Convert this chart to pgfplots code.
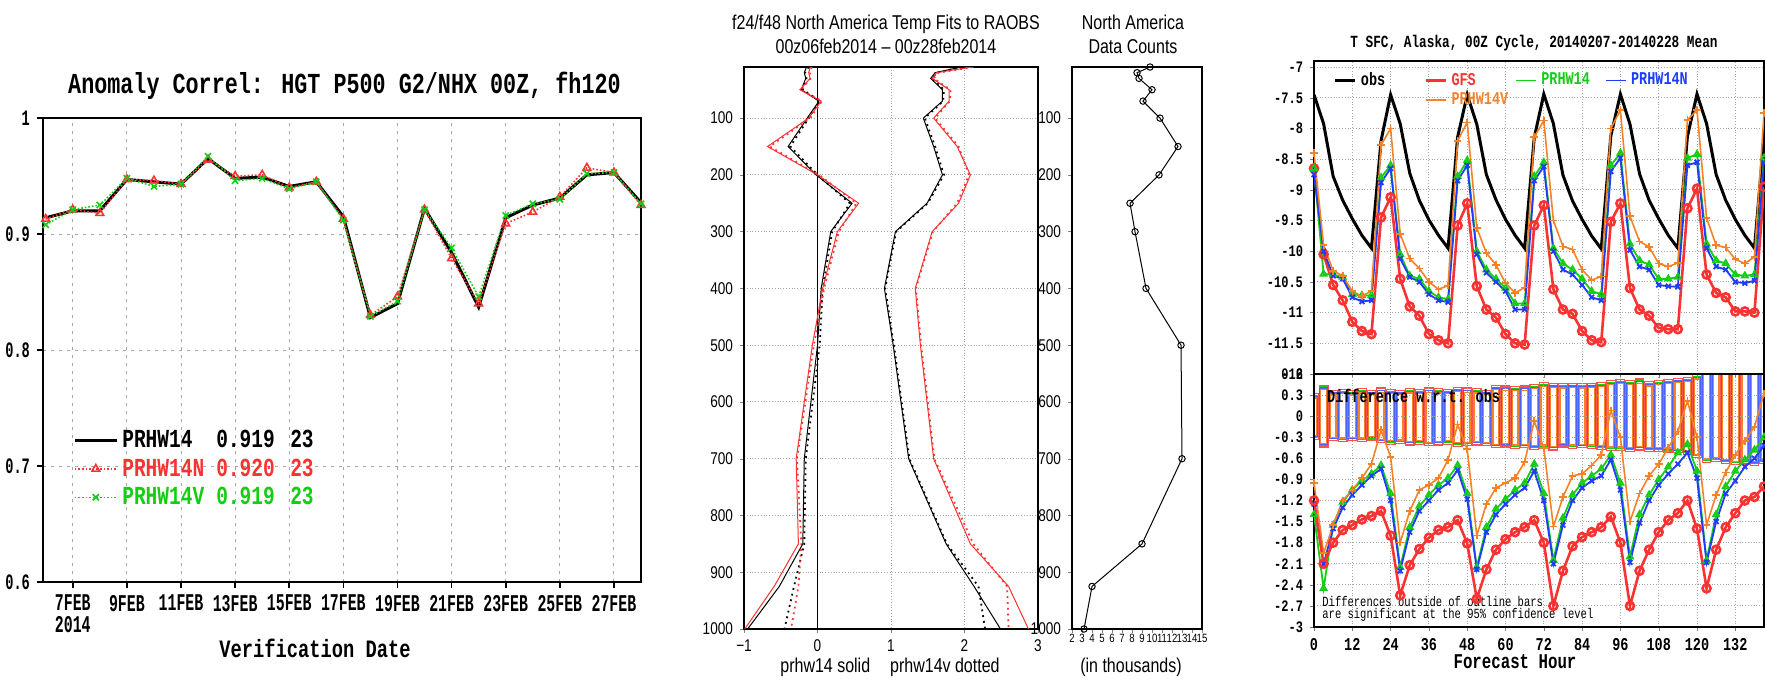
\documentclass[border=0pt]{standalone}
\usepackage{fontspec}
\setmainfont{Liberation Sans}
\newfontfamily\grads[FakeStretch=0.75]{Liberation Mono}
\newfontfamily\gradsn[FakeStretch=0.62]{Liberation Mono}
\newfontfamily\gsans[FakeStretch=0.8]{Liberation Sans}
\usepackage{pgfplots}
\usepackage{pgfplotstable}
\pgfplotsset{compat=1.18}

\definecolor{gred}{RGB}{250,50,50}
\definecolor{ggreen}{RGB}{20,205,20}
\definecolor{gblue}{RGB}{30,60,250}
\definecolor{gorange}{RGB}{245,130,40}
\definecolor{ggrid}{RGB}{165,165,165}

% anomaly correlation, daily
\pgfplotstableread{
day a n v
6 0.914 0.913 0.908
7 0.920 0.921 0.921
8 0.920 0.918 0.925
9 0.947 0.947 0.948
10 0.945 0.946 0.941
11 0.943 0.943 0.943
12 0.965 0.964 0.967
13 0.948 0.950 0.946
14 0.949 0.951 0.948
15 0.941 0.940 0.939
16 0.945 0.945 0.945
17 0.915 0.913 0.912
18 0.828 0.830 0.829
19 0.840 0.846 0.842
20 0.922 0.921 0.921
21 0.884 0.879 0.888
22 0.837 0.840 0.846
23 0.914 0.909 0.916
24 0.925 0.919 0.926
25 0.931 0.932 0.930
26 0.951 0.957 0.952
27 0.953 0.953 0.953
28 0.927 0.925 0.926
}\acdata

% raob fits: bias (b) and rms (m), solid/dotted
\pgfplotstableread{
p bs bd rs rd ms md mrs mrd
10 -0.15 -0.12 -0.10 -0.08 1.95 1.97 2.10 2.12
20 -0.18 -0.17 -0.12 -0.10 1.60 1.62 1.62 1.64
30 -0.16 -0.15 -0.10 -0.09 1.54 1.56 1.56 1.58
50 -0.22 -0.20 -0.24 -0.23 1.70 1.72 1.79 1.81
70 0.02 0.03 0.05 0.06 1.70 1.71 1.79 1.80
100 -0.14 -0.12 -0.12 -0.10 1.44 1.46 1.58 1.60
150 -0.40 -0.37 -0.68 -0.65 1.58 1.60 1.90 1.92
200 -0.02 0.00 0.00 0.02 1.70 1.72 2.08 2.06
250 0.47 0.44 0.56 0.53 1.49 1.50 1.92 1.90
300 0.18 0.20 0.27 0.29 1.06 1.07 1.56 1.57
400 0.05 0.07 0.07 0.09 0.91 0.92 1.33 1.34
500 0.00 0.03 -0.07 -0.05 1.03 1.04 1.40 1.41
700 -0.18 -0.16 -0.29 -0.28 1.24 1.25 1.58 1.59
850 -0.20 -0.18 -0.26 -0.22 1.75 1.76 2.08 2.12
925 -0.52 -0.32 -0.59 -0.26 2.13 2.19 2.60 2.58
1000 -0.95 -0.45 -0.99 -0.36 2.49 2.28 2.87 2.60
}\fits

\pgfplotstableread{
p n
10 9.8
20 8.5
30 8.7
50 10.0
70 9.1
100 10.8
150 12.6
200 10.7
250 7.8
300 8.3
400 9.4
500 12.9
700 13.0
850 9.0
925 4.0
1000 3.2
}\counts

% T SFC Alaska, 3-hourly means
\pgfplotstableread{
h obs gfs p14 p14n p14v
0 -7.45 -8.65 -8.65 -8.75 -8.40
3 -7.92 -10.05 -10.37 -10.00 -9.90
6 -8.78 -10.55 -10.38 -10.40 -10.32
9 -9.17 -10.80 -10.42 -10.45 -10.40
12 -9.47 -11.15 -10.70 -10.75 -10.65
15 -9.74 -11.30 -10.72 -10.82 -10.73
18 -9.95 -11.35 -10.72 -10.80 -10.65
21 -8.20 -9.45 -8.80 -8.88 -8.27
24 -7.45 -9.12 -8.60 -8.65 -8.00
27 -7.92 -10.45 -10.05 -10.12 -9.72
30 -8.73 -10.90 -10.40 -10.42 -10.12
33 -9.17 -11.05 -10.45 -10.50 -10.28
36 -9.49 -11.35 -10.65 -10.70 -10.50
39 -9.74 -11.45 -10.75 -10.80 -10.62
42 -9.95 -11.50 -10.78 -10.83 -10.56
45 -8.14 -9.58 -8.78 -8.85 -8.20
48 -7.45 -9.22 -8.52 -8.60 -7.90
51 -7.93 -10.57 -10.00 -10.05 -9.62
54 -8.75 -10.95 -10.30 -10.35 -10.03
57 -9.16 -11.08 -10.45 -10.50 -10.22
60 -9.48 -11.35 -10.60 -10.65 -10.52
63 -9.74 -11.50 -10.85 -10.95 -10.68
66 -9.95 -11.52 -10.85 -10.95 -10.59
69 -8.15 -9.58 -8.78 -8.85 -8.14
72 -7.44 -9.25 -8.55 -8.62 -7.87
75 -7.92 -10.62 -9.95 -10.00 -9.50
78 -8.76 -10.95 -10.20 -10.30 -9.92
81 -9.18 -11.02 -10.30 -10.38 -9.97
84 -9.48 -11.30 -10.45 -10.55 -10.30
87 -9.75 -11.45 -10.65 -10.75 -10.47
90 -9.96 -11.48 -10.70 -10.80 -10.41
93 -8.12 -9.52 -8.60 -8.70 -8.00
96 -7.44 -9.22 -8.40 -8.48 -7.70
99 -7.93 -10.60 -9.88 -9.98 -9.43
102 -8.74 -10.95 -10.15 -10.25 -9.84
105 -9.17 -11.05 -10.22 -10.30 -9.93
108 -9.47 -11.25 -10.45 -10.55 -10.20
111 -9.74 -11.27 -10.45 -10.57 -10.25
114 -9.95 -11.27 -10.42 -10.58 -10.19
117 -8.13 -9.30 -8.48 -8.60 -7.86
120 -7.44 -8.98 -8.42 -8.55 -7.70
123 -7.92 -10.38 -9.88 -9.95 -9.46
126 -8.75 -10.68 -10.15 -10.25 -9.90
129 -9.17 -10.75 -10.20 -10.30 -9.94
132 -9.48 -10.98 -10.38 -10.50 -10.13
135 -9.74 -10.98 -10.40 -10.52 -10.20
138 -9.95 -11.00 -10.38 -10.48 -10.09
141 -8.15 -8.95 -8.48 -8.56 -7.75
}\tsfc

% differences w.r.t. obs
\pgfplotstableread{
h dg dp dn dv
0 -1.20 -1.40 -1.25 -0.95
3 -2.10 -2.45 -2.10 -1.95
6 -1.80 -1.55 -1.60 -1.55
9 -1.62 -1.22 -1.30 -1.20
12 -1.55 -1.05 -1.12 -1.05
15 -1.47 -0.92 -0.98 -0.88
18 -1.42 -0.82 -0.85 -0.68
21 -1.35 -0.70 -0.75 -0.20
24 -1.70 -1.10 -1.20 -0.58
27 -2.55 -2.15 -2.20 -1.80
30 -2.12 -1.58 -1.65 -1.35
33 -1.89 -1.28 -1.35 -1.05
36 -1.73 -1.12 -1.20 -0.98
39 -1.62 -0.98 -1.05 -0.88
42 -1.58 -0.88 -0.95 -0.62
45 -1.48 -0.70 -0.77 -0.12
48 -1.81 -1.10 -1.18 -0.47
51 -2.60 -2.15 -2.18 -1.70
54 -2.18 -1.58 -1.65 -1.25
57 -1.90 -1.32 -1.40 -1.02
60 -1.75 -1.18 -1.25 -0.95
63 -1.65 -1.05 -1.12 -0.88
66 -1.58 -0.95 -1.02 -0.65
69 -1.48 -0.68 -0.78 -0.07
72 -1.80 -1.10 -1.20 -0.45
75 -2.70 -2.05 -2.10 -1.57
78 -2.20 -1.45 -1.55 -1.15
81 -1.85 -1.12 -1.20 -0.85
84 -1.72 -0.95 -1.02 -0.82
87 -1.65 -0.85 -0.92 -0.70
90 -1.58 -0.75 -0.85 -0.55
93 -1.43 -0.55 -0.62 0.08
96 -1.80 -0.95 -1.05 -0.30
99 -2.70 -2.00 -2.08 -1.50
102 -2.20 -1.40 -1.52 -1.10
105 -1.90 -1.12 -1.20 -0.85
108 -1.65 -0.90 -0.98 -0.68
111 -1.48 -0.72 -0.82 -0.45
114 -1.38 -0.52 -0.68 -0.22
117 -1.20 -0.40 -0.52 0.22
120 -1.60 -0.78 -0.88 -0.30
123 -2.45 -2.05 -2.08 -1.55
126 -1.90 -1.40 -1.50 -1.12
129 -1.58 -1.00 -1.10 -0.80
132 -1.38 -0.78 -0.92 -0.55
135 -1.20 -0.62 -0.72 -0.35
138 -1.15 -0.48 -0.60 -0.15
141 -1.00 -0.30 -0.42 0.32
}\diffs

% 95% outline bars: lower end and length, per model
\pgfplotstableread{
h rlo rlen glo glen blo blen olo olen
0 -0.33 0.65 -0.30 0.59 -0.29 0.57 -0.28 0.54
3 -0.44 0.88 -0.42 0.84 -0.40 0.80 -0.39 0.77
6 -0.35 0.72 -0.32 0.66 -0.31 0.64 -0.30 0.61
9 -0.36 0.74 -0.33 0.68 -0.32 0.66 -0.31 0.63
12 -0.35 0.71 -0.32 0.65 -0.31 0.63 -0.30 0.60
15 -0.36 0.75 -0.33 0.69 -0.32 0.67 -0.31 0.64
18 -0.34 0.71 -0.31 0.65 -0.30 0.63 -0.29 0.60
21 -0.38 0.78 -0.35 0.72 -0.34 0.70 -0.33 0.67
24 -0.40 0.78 -0.37 0.72 -0.36 0.70 -0.35 0.67
27 -0.39 0.76 -0.36 0.70 -0.35 0.68 -0.34 0.65
30 -0.41 0.80 -0.38 0.74 -0.37 0.72 -0.36 0.69
33 -0.40 0.78 -0.37 0.72 -0.36 0.70 -0.35 0.67
36 -0.42 0.82 -0.39 0.76 -0.38 0.74 -0.37 0.71
39 -0.41 0.80 -0.38 0.74 -0.37 0.72 -0.36 0.69
42 -0.40 0.78 -0.37 0.72 -0.36 0.70 -0.35 0.67
45 -0.43 0.84 -0.40 0.78 -0.39 0.76 -0.38 0.73
48 -0.42 0.82 -0.39 0.76 -0.38 0.74 -0.37 0.71
51 -0.41 0.80 -0.38 0.74 -0.37 0.72 -0.36 0.69
54 -0.42 0.79 -0.39 0.73 -0.38 0.71 -0.37 0.68
57 -0.45 0.89 -0.42 0.83 -0.41 0.81 -0.40 0.78
60 -0.44 0.87 -0.41 0.81 -0.40 0.79 -0.39 0.76
63 -0.46 0.88 -0.43 0.82 -0.42 0.80 -0.41 0.77
66 -0.45 0.88 -0.42 0.82 -0.41 0.80 -0.40 0.77
69 -0.47 0.92 -0.44 0.86 -0.43 0.84 -0.42 0.81
72 -0.46 0.94 -0.43 0.88 -0.42 0.86 -0.41 0.83
75 -0.48 0.95 -0.45 0.89 -0.44 0.87 -0.43 0.84
78 -0.44 0.90 -0.41 0.84 -0.40 0.82 -0.39 0.79
81 -0.46 0.93 -0.43 0.87 -0.42 0.85 -0.41 0.82
84 -0.45 0.91 -0.42 0.85 -0.41 0.83 -0.40 0.80
87 -0.46 0.93 -0.43 0.87 -0.42 0.85 -0.41 0.82
90 -0.47 0.95 -0.44 0.89 -0.43 0.87 -0.42 0.84
93 -0.49 1.00 -0.46 0.94 -0.45 0.92 -0.44 0.89
96 -0.49 1.01 -0.46 0.95 -0.45 0.93 -0.44 0.90
99 -0.50 1.01 -0.47 0.95 -0.46 0.93 -0.45 0.90
102 -0.48 1.01 -0.45 0.95 -0.44 0.93 -0.43 0.90
105 -0.50 0.99 -0.47 0.93 -0.46 0.91 -0.45 0.88
108 -0.50 1.01 -0.47 0.95 -0.46 0.93 -0.45 0.90
111 -0.51 1.03 -0.48 0.97 -0.47 0.95 -0.46 0.92
114 -0.52 1.06 -0.49 1.00 -0.48 0.98 -0.47 0.95
117 -0.54 1.09 -0.51 1.03 -0.50 1.01 -0.49 0.98
120 -0.59 1.18 -0.56 1.12 -0.55 1.10 -0.54 1.07
123 -0.66 1.32 -0.63 1.26 -0.62 1.24 -0.61 1.21
126 -0.64 1.30 -0.61 1.24 -0.60 1.22 -0.59 1.19
129 -0.67 1.33 -0.64 1.27 -0.63 1.25 -0.62 1.22
132 -0.69 1.35 -0.66 1.29 -0.65 1.27 -0.64 1.24
135 -0.68 1.34 -0.65 1.28 -0.64 1.26 -0.63 1.23
138 -0.70 1.36 -0.67 1.30 -0.66 1.28 -0.65 1.25
141 -0.67 1.33 -0.64 1.27 -0.63 1.25 -0.62 1.22
}\bars

\pgfplotsset{
  diffbox/.style={at={(657pt,27.5pt)}, anchor=south west, scale only axis,
    width=225pt, height=126.5pt, xmin=0, xmax=141, ymin=-3, ymax=0.6,
    hide axis, ybar stacked, stack negative=on previous},
}

\begin{document}
\begin{tikzpicture}
\useasboundingbox (0,0) rectangle (882.5pt,341pt);

% ---------------- left: anomaly correlation
\begin{axis}[
  at={(21.5pt,50pt)}, anchor=south west, scale only axis,
  width=299pt, height=232pt,
  xmin=5.9, xmax=28, ymin=0.6, ymax=1,
  xtick={7,9,11,13,15,17,19,21,23,25,27},
  xticklabels={{7FEB\\2014},9FEB,11FEB,13FEB,15FEB,17FEB,19FEB,21FEB,23FEB,25FEB,27FEB},
  ytick={0.6,0.7,0.8,0.9,1},
  yticklabels={0.6,0.7,0.8,0.9,1},
  tick pos=left, tick align=outside, major tick length=3pt,
  tick style={black, line width=0.8pt},
  xticklabel style={font=\gradsn\bfseries\fontsize{12}{11}\selectfont, align=left},
  yticklabel style={font=\gradsn\bfseries\fontsize{11}{10}\selectfont},
  grid=major, grid style={ggrid, dash pattern=on 1.5pt off 2.5pt, line width=0.5pt},
  axis line style={line width=1.2pt},
  legend cell align=left,
  legend style={at={(0.04,0.345)}, anchor=north west, draw=none, fill=none,
    font=\grads\bfseries\fontsize{13}{13}\selectfont},
  legend image code/.code={\draw[mark repeat=2,mark phase=2,#1] plot coordinates {(0pt,0pt) (10.5pt,0pt) (21pt,0pt)};},
]
\addplot[black, line width=1.5pt] table[x=day,y=a]{\acdata};
\addlegendentry{\makebox[47pt][l]{PRHW14}\makebox[37pt][l]{0.919}23}
\addplot[gred, densely dotted, line width=0.8pt, mark=triangle, mark size=2.2pt, mark options={solid}] table[x=day,y=n]{\acdata};
\addlegendentry{\textcolor{gred}{\makebox[47pt][l]{PRHW14N}\makebox[37pt][l]{0.920}23}}
\addplot[ggreen, densely dotted, line width=0.8pt, mark=x, mark size=2.2pt, mark options={solid}] table[x=day,y=v]{\acdata};
\addlegendentry{\textcolor{ggreen}{\makebox[47pt][l]{PRHW14V}\makebox[37pt][l]{0.919}23}}
\end{axis}
\node[font=\grads\bfseries\fontsize{14.5}{15}\selectfont] at (172.25pt,298pt) {Anomaly Correl: HGT P500 G2/NHX 00Z, fh120};
\node[font=\grads\bfseries\fontsize{12.5}{13}\selectfont] at (157.5pt,17pt) {Verification Date};

% ---------------- middle: fits to raobs
\begin{axis}[
  at={(372pt,26.5pt)}, anchor=south west, scale only axis,
  width=147pt, height=281pt,
  xmin=-1, xmax=3, ymin=10, ymax=1000, y dir=reverse,
  xtick={-1,0,1,2,3}, xticklabels={−1,0,1,2,3},
  ytick={100,200,300,400,500,600,700,800,900,1000},
  yticklabels={100,200,300,400,500,600,700,800,900,1000},
  tick pos=left, tick align=outside, major tick length=2pt,
  grid=major, grid style={ggrid, densely dotted, line width=0.5pt},
  tick label style={font=\gsans\fontsize{8.5}{8}\selectfont},
  axis line style={line width=0.8pt},
]
\addplot[black, line width=0.8pt] coordinates {(0,10) (0,1000)};
\addplot[black, line width=0.5pt] table[x=bs,y=p]{\fits};
\addplot[black, dotted, line width=0.9pt] table[x=bd,y=p]{\fits};
\addplot[gred, line width=0.5pt] table[x=rs,y=p]{\fits};
\addplot[gred, dotted, line width=0.9pt] table[x=rd,y=p]{\fits};
\addplot[black, line width=0.5pt] table[x=ms,y=p]{\fits};
\addplot[black, dotted, line width=0.9pt] table[x=md,y=p]{\fits};
\addplot[gred, line width=0.5pt] table[x=mrs,y=p]{\fits};
\addplot[gred, dotted, line width=0.9pt] table[x=mrd,y=p]{\fits};
\end{axis}
\node[font=\gsans\fontsize{10}{12}\selectfont, align=center] at (443pt,324pt) {f24/f48 North America Temp Fits to RAOBS\\00z06feb2014 – 00z28feb2014};
\node[font=\gsans\fontsize{10}{10}\selectfont] at (445pt,7.5pt) {prhw14 solid\quad prhw14v dotted};

% ---------------- middle right: data counts
\begin{axis}[
  at={(536pt,26.5pt)}, anchor=south west, scale only axis,
  width=65pt, height=281pt,
  xmin=2, xmax=15, ymin=10, ymax=1000, y dir=reverse,
  xtick={2,3,4,5,6,7,8,9,10,11,12,13,14,15},
  xticklabels={2,3,4,5,6,7,8,9,10,11,12,13,14,15},
  ytick={100,200,300,400,500,600,700,800,900,1000},
  yticklabels={100,200,300,400,500,600,700,800,900,1000},
  tick pos=left, tick align=outside, major tick length=2pt,
  yticklabel style={font=\gsans\fontsize{8.5}{8}\selectfont},
  xticklabel style={font=\gsans\fontsize{6}{6}\selectfont, inner sep=0.5pt},
  axis line style={line width=0.8pt},
]
\addplot[black, line width=0.5pt, mark=o, mark size=1.6pt] table[x=n,y=p]{\counts};
\end{axis}
\node[font=\gsans\fontsize{10}{12}\selectfont, align=center] at (566.5pt,324pt) {North America\\Data Counts};
\node[font=\gsans\fontsize{10}{10}\selectfont] at (565.5pt,7.5pt) {(in thousands)};

% ---------------- right top: T SFC Alaska
\begin{axis}[
  at={(657pt,154pt)}, anchor=south west, scale only axis,
  width=225pt, height=156.5pt,
  xmin=0, xmax=141, ymin=-12, ymax=-6.9,
  xtick={0,12,24,36,48,60,72,84,96,108,120,132}, xticklabels={},
  ytick={-12,-11.5,-11,-10.5,-10,-9.5,-9,-8.5,-8,-7.5,-7},
  yticklabels={-12,-11.5,-11,-10.5,-10,-9.5,-9,-8.5,-8,-7.5,-7},
  tick pos=left, tick align=outside, major tick length=2pt,
  yticklabel style={font=\grads\bfseries\fontsize{8}{8}\selectfont},
  grid=major, grid style={ggrid, densely dotted, line width=0.5pt},
  axis line style={line width=1pt},
  legend columns=4,
  legend style={at={(0.03,0.99)}, anchor=north west, draw=none, fill=none,
    font=\grads\bfseries\fontsize{9}{9}\selectfont, row sep=-2pt,
    /tikz/every even column/.append style={column sep=0pt}},
  legend cell align=left,
  legend image code/.code={\draw[#1, mark=none] (0pt,0pt) -- (10pt,0pt);},
]
\addplot[black, line width=1.5pt] table[x=h,y=obs]{\tsfc};
\addlegendentry{\makebox[30pt][l]{obs}}
\addplot[gred, line width=1.3pt, mark=o, mark size=2pt] table[x=h,y=gfs]{\tsfc};
\addlegendentry{\textcolor{gred}{\makebox[30pt][l]{GFS}}}
\addplot[ggreen, line width=0.9pt, mark=triangle, mark size=1.7pt] table[x=h,y=p14]{\tsfc};
\addlegendentry{\textcolor{ggreen}{\makebox[30pt][l]{PRHW14}}}
\addplot[gblue, line width=0.9pt, mark=x, mark size=1.7pt] table[x=h,y=p14n]{\tsfc};
\addlegendentry{\textcolor{gblue}{PRHW14N}}
\addlegendimage{empty legend}
\addlegendentry{}
\addplot[gorange, line width=0.8pt, mark=+, mark size=1.9pt] table[x=h,y=p14v]{\tsfc};
\addlegendentry{\textcolor{gorange}{PRHW14V}}
\end{axis}
\node[font=\grads\bfseries\fontsize{8.5}{9}\selectfont] at (767pt,319.5pt) {T SFC, Alaska, 00Z Cycle, 20140207-20140228 Mean};

% ---------------- right bottom: outline bars, one overlay per model
\begin{axis}[diffbox, bar width=2.7]
\addplot[draw=none, fill=none] table[x=h,y=rlo]{\bars};
\addplot[draw=gred!85, fill=none, line width=0.6pt] table[x=h,y=rlen]{\bars};
\end{axis}
\begin{axis}[diffbox, bar width=2.1]
\addplot[draw=none, fill=none] table[x=h,y=glo]{\bars};
\addplot[draw=ggreen, fill=none, line width=0.6pt] table[x=h,y=glen]{\bars};
\end{axis}
\begin{axis}[diffbox, bar width=2.3]
\addplot[draw=none, fill=none] table[x=h,y=blo]{\bars};
\addplot[draw=gblue!80, fill=none, line width=0.6pt] table[x=h,y=blen]{\bars};
\end{axis}
\begin{axis}[diffbox, bar width=1.8]
\addplot[draw=none, fill=none] table[x=h,y=olo]{\bars};
\addplot[draw=gorange, fill=none, line width=0.6pt] table[x=h,y=olen]{\bars};
\end{axis}

\begin{axis}[
  at={(657pt,27.5pt)}, anchor=south west, scale only axis,
  width=225pt, height=126.5pt,
  xmin=0, xmax=141, ymin=-3, ymax=0.6,
  xtick={0,12,24,36,48,60,72,84,96,108,120,132},
  xticklabels={0,12,24,36,48,60,72,84,96,108,120,132},
  ytick={-3,-2.7,-2.4,-2.1,-1.8,-1.5,-1.2,-0.9,-0.6,-0.3,0,0.3,0.6},
  yticklabels={-3,-2.7,-2.4,-2.1,-1.8,-1.5,-1.2,-0.9,-0.6,-0.3,0,0.3,0.6},
  tick pos=left, tick align=outside, major tick length=2pt,
  tick label style={font=\grads\bfseries\fontsize{8}{8}\selectfont},
  xticklabel style={font=\grads\bfseries\fontsize{9}{9}\selectfont},
  grid=major, grid style={ggrid, densely dotted, line width=0.5pt},
  axis line style={line width=1pt},
]
\addplot[ggreen, line width=0.9pt, mark=triangle, mark size=1.7pt] table[x=h,y=dp]{\diffs};
\addplot[gblue, line width=0.9pt, mark=x, mark size=1.7pt] table[x=h,y=dn]{\diffs};
\addplot[gorange, line width=0.8pt, mark=+, mark size=1.9pt] table[x=h,y=dv]{\diffs};
\addplot[gred, line width=1.3pt, mark=o, mark size=2pt] table[x=h,y=dg]{\diffs};
\node[anchor=west, font=\grads\bfseries\fontsize{9}{9}\selectfont, inner sep=0pt] at (axis cs:4,0.29) {Difference w.r.t. obs};
\node[anchor=south west, align=left, font=\grads\fontsize{7}{6}\selectfont, inner sep=0pt] at (axis cs:2.5,-2.92) {Differences outside of outline bars\\are significant at the 95\% confidence level};
\end{axis}
\node[font=\grads\bfseries\fontsize{10.5}{11}\selectfont] at (757.5pt,10pt) {Forecast Hour};
\end{tikzpicture}
\end{document}
